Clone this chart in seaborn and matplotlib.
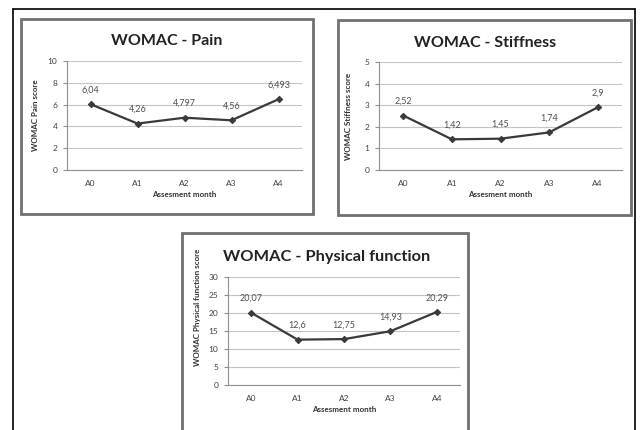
import matplotlib
matplotlib.use("Agg")
import matplotlib.pyplot as plt
from matplotlib.patches import Rectangle
from matplotlib.lines import Line2D
from matplotlib.ticker import FixedLocator
import pandas as pd
import seaborn as sns

# assessment months and WOMAC scores
months = ["A0", "A1", "A2", "A3", "A4"]
pain = [6.04, 4.26, 4.797, 4.56, 6.493]
stiffness = [2.52, 1.42, 1.45, 1.74, 2.9]
physical = [20.07, 12.6, 12.75, 14.93, 20.29]

sns.set_style("white")
plt.rcParams["font.family"] = ["Lato", "DejaVu Sans"]

W, H = 640, 430
fig = plt.figure(figsize=(W / 100, H / 100), dpi=100)
fig.patch.set_facecolor("white")


def frac(x0, y0, x1, y1):
    # pixel box (top-left origin) -> figure fraction [l, b, w, h]
    return [x0 / W, 1 - y1 / H, (x1 - x0) / W, (y1 - y0) / H]


def box(x0, y0, x1, y1, color, lw):
    l, b, w, h = frac(x0, y0, x1, y1)
    fig.add_artist(Rectangle((l, b), w, h, transform=fig.transFigure,
                             fill=False, edgecolor=color, linewidth=lw,
                             clip_on=False))


# outer page lines
fig.add_artist(Line2D([13 / W, 13 / W], [0, 1 - 9 / H], color="black", lw=1.2, transform=fig.transFigure))
fig.add_artist(Line2D([635 / W, 635 / W], [0, 1 - 9 / H], color="black", lw=1.2, transform=fig.transFigure))
fig.add_artist(Line2D([13 / W, 635 / W], [1 - 9 / H, 1 - 9 / H], color="black", lw=1.2, transform=fig.transFigure))

# chart frames
box(21, 19, 313, 214, "#707070", 2.0)
box(338, 20, 631, 215, "#707070", 2.0)
box(182, 233, 468, 440, "#707070", 2.0)


def panel(pos, frame_x, values, ymax, ystep, title, ylabel, title_size, title_y, ylab_xy):
    ax = fig.add_axes(frac(*pos))
    df = pd.DataFrame({"month": months, "score": values})
    sns.lineplot(data=df, x="month", y="score", ax=ax, sort=False,
                 color="#3a3a3a", linewidth=1.6, marker="D", markersize=3.2,
                 markeredgecolor="#3a3a3a")
    ax.set_xlim(-0.5, len(months) - 0.5)
    ax.set_ylim(0, ymax)
    ticks = list(range(0, ymax + 1, ystep))
    ax.set_yticks(ticks)
    ax.yaxis.grid(True, color="#c4c4c4", linewidth=0.8)
    ax.set_axisbelow(True)
    ax.xaxis.set_minor_locator(FixedLocator([i - 0.5 for i in range(len(months) + 1)]))
    ax.tick_params(axis="x", which="major", length=0, labelsize=6, labelcolor="#404040", pad=7)
    ax.tick_params(axis="x", which="minor", length=3, color="#909090", width=0.8)
    ax.tick_params(axis="y", which="major", length=3, color="#909090", width=0.8,
                   labelsize=6, labelcolor="#404040", pad=4, left=True)
    for s in ["top", "right"]:
        ax.spines[s].set_visible(False)
    for s in ["left", "bottom"]:
        ax.spines[s].set_color("#909090")
        ax.spines[s].set_linewidth(0.8)
    ax.set_xlabel("Assesment month", fontsize=5.8, fontweight="bold", color="#303030", labelpad=3)
    ax.set_ylabel(ylabel, fontsize=5.8, fontweight="bold", color="#303030")
    ax.yaxis.set_label_coords(*ylab_xy)
    # title centred on the chart frame rather than the plot area
    tx = (frame_x - pos[0]) / (pos[2] - pos[0])
    ax.set_title(title, fontsize=title_size, fontweight="bold", color="#222222", x=tx, y=title_y)
    for i, v in enumerate(values):
        ax.annotate(f"{v:g}".replace(".", ","), (i, v), xytext=(0, 7),
                    textcoords="offset points", ha="center", va="bottom",
                    fontsize=6.5, color="#505050")
    return ax


panel((67, 61, 302, 170), 167, pain, 10, 2, "WOMAC - Pain", "WOMAC Pain score",
      11.5, 1.07, (-0.12, 0.5))
panel((379, 62, 622, 170), 485, stiffness, 5, 1, "WOMAC - Stiffness", "WOMAC Stiffness score",
      11.5, 1.06, (-0.11, 0.5))
panel((228, 277, 460, 385), 327, physical, 30, 5, "WOMAC - Physical function",
      "WOMAC Physical function score", 11.8, 1.07, (-0.115, 0.72))

fig.savefig("out.png", dpi=100, facecolor="white")
